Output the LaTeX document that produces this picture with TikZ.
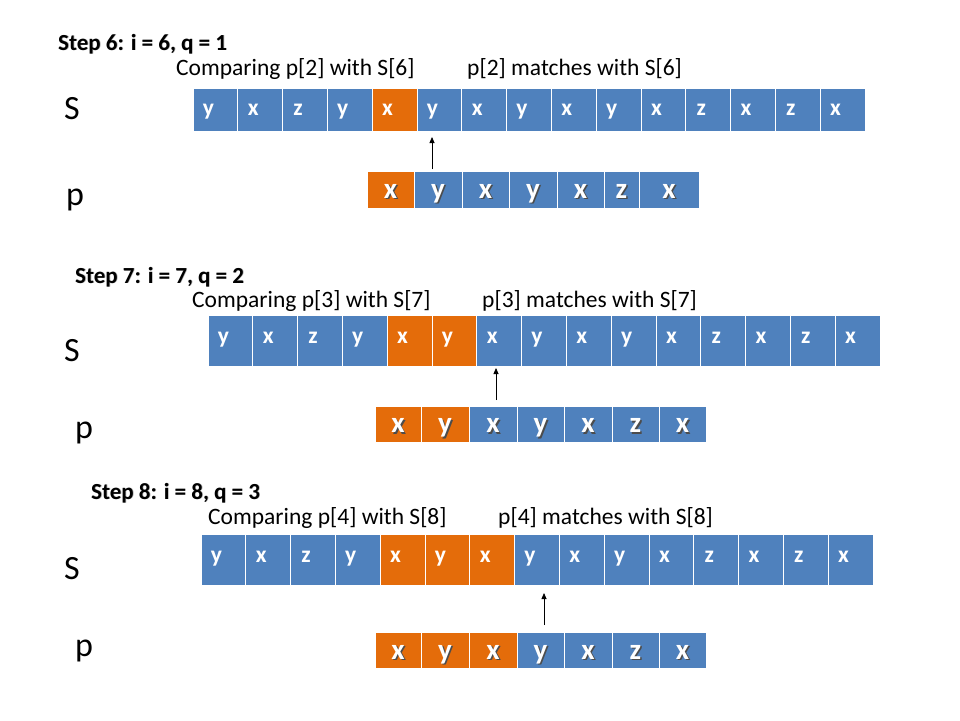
\documentclass[tikz,border=0pt]{standalone}
\usepackage{fontspec}
\setmainfont{Carlito}
\usetikzlibrary{arrows.meta}
\definecolor{sblue}{HTML}{4F81BD}
\definecolor{sorange}{HTML}{E46C0A}
\newcommand\shd[1]{\rlap{\kern1.5pt\raisebox{-1.5pt}{\color{black!70}#1}}#1}
\newcommand\lshd[1]{\rlap{\kern0.8pt\raisebox{-0.8pt}{\color{black!30}#1}}#1}
\tikzset{
  cellbox/.style={draw=white, line width=0.7pt, inner sep=0pt, text=white,
    text height=11pt, text depth=0pt,
    font=\fontsize{23.5}{24}\selectfont\bfseries},
  pcell/.style={cellbox, text height=17pt, text depth=0pt,
    font=\fontsize{29}{29}\selectfont\bfseries},
  steplbl/.style={anchor=base west, inner sep=0pt, font=\fontsize{23}{23}\selectfont\bfseries},
  cmplbl/.style={anchor=base west, inner sep=0pt, font=\fontsize{23.5}{24}\selectfont},
  biglbl/.style={anchor=base west, inner sep=0pt, font=\fontsize{34}{34}\selectfont},
  ptr/.style={-{Triangle[length=6pt,width=5pt]}, line width=0.8pt}
}
% #1 row id, #2 x0, #3 y centre, #4 height, #5 last orange index, #6 text depth
\newcommand\srow[6]{%
  \foreach \c [count=\i] in {y,x,z,y,x,y,x,y,x,y,x,z,x,z,x}{%
    \ifnum\i<5 \def\fc{sblue}\else\ifnum\i>#5 \def\fc{sblue}\else\def\fc{sorange}\fi\fi
    \node[cellbox, fill=\fc, minimum width=44.8pt, minimum height=#4pt, text depth=#6pt]
      (s#1-\i) at ({#2+44.8*(\i-0.5)}, #3) {\c\hspace*{14pt}};
  }%
}
% #1 row id, #2 y centre, #3 height, #4 last orange index, #5 list of left/right/letter
\newcommand\prow[5]{%
  \foreach \l/\r/\c [count=\i] in {#5}{%
    \ifnum\i>#4 \def\fc{sblue}\else\def\fc{sorange}\fi
    \node[pcell, fill=\fc, minimum width={(\r-\l)*1pt}, minimum height=#3pt]
      (p#1-\i) at ({(\l+\r)/2}, #2) {\shd{\c}};
  }%
}
\begin{document}
\begin{tikzpicture}[x=1pt, y=-1pt]
\useasboundingbox[fill=white] (0,0) rectangle (960,720);

% ---------- Step 6 ----------
\node[steplbl] (st6) at (58,50) {\lshd{Step 6: i = 6, q = 1}};
\node[cmplbl] (c6) at (176,75) {Comparing p[2] with S[6]};
\node[cmplbl] (m6) at (467,75) {p[2] matches with S[6]};
\node[biglbl] (S6) at (64,119) {S};
\node[biglbl] (P6) at (66,205) {p};
\srow{6}{193}{109.5}{43}{5}{0}
\prow{6}{189.5}{37}{1}{367/414/x,414/462/y,462/509/x,509/557/y,557/604/x,604/639/z,639/699/x}
\coordinate (a6s) at (432,169);
\coordinate (a6e) at (432,137);
\draw[ptr] (a6s) -- (a6e);

% ---------- Step 7 ----------
\node[steplbl] (st7) at (75,283) {\lshd{Step 7: i = 7, q = 2}};
\node[cmplbl] (c7) at (192,307) {Comparing p[3] with S[7]};
\node[cmplbl] (m7) at (482,307) {p[3] matches with S[7]};
\node[biglbl] (S7) at (64,361) {S};
\node[biglbl] (P7) at (75,438) {p};
\srow{7}{208}{340.5}{51}{6}{6}
\prow{7}{424}{36}{2}{375/421/x,421/469/y,469/517/x,517/564/y,564/612/x,612/659/z,659/706/x}
\coordinate (a7s) at (496,400);
\coordinate (a7e) at (496,368);
\draw[ptr] (a7s) -- (a7e);

% ---------- Step 8 ----------
\node[steplbl] (st8) at (91,499) {\lshd{Step 8: i = 8, q = 3}};
\node[cmplbl] (c8) at (208,524) {Comparing p[4] with S[8]};
\node[cmplbl] (m8) at (498,524) {p[4] matches with S[8]};
\node[biglbl] (S8) at (64,579) {S};
\node[biglbl] (P8) at (75,656) {p};
\srow{8}{201}{559.5}{51}{7}{6}
\prow{8}{650.5}{35.5}{3}{375/421/x,421/469/y,469/517/x,517/564/y,564/612/x,612/659/z,659/706/x}
\coordinate (a8s) at (544,625);
\coordinate (a8e) at (544,593);
\draw[ptr] (a8s) -- (a8e);
\end{tikzpicture}
\end{document}
